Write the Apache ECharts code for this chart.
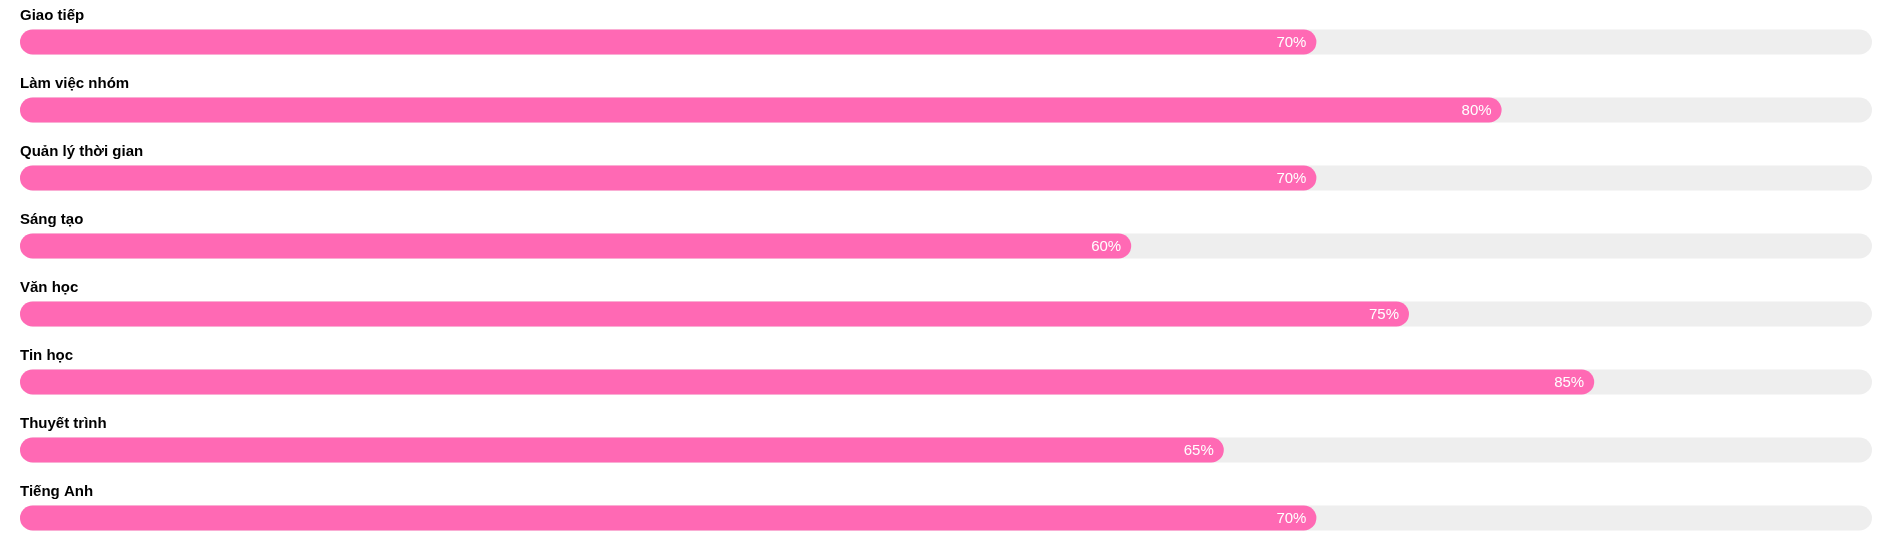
<!DOCTYPE html>
<html>
<head>
<meta charset="utf-8">
<script src="https://cdn.jsdelivr.net/npm/echarts@6/dist/echarts.min.js"></script>
<style>
    html, body { margin: 0; padding: 0; background: #fff; }
    #chart { width: 1893px; height: 552px; }
</style>
</head>
<body>
<div id="chart"></div>
<script>
// kỹ năng và mức độ (%)
const skills = [
    "Giao tiếp",
    "Làm việc nhóm",
    "Quản lý thời gian",
    "Sáng tạo",
    "Văn học",
    "Tin học",
    "Thuyết trình",
    "Tiếng Anh"
];
const levels = [70, 80, 70, 60, 75, 85, 65, 70];

const chart = echarts.init(document.getElementById("chart"));

const option = {
    animation: false,
    textStyle: { fontFamily: "Liberation Sans, Arial, sans-serif" },
    grid: { left: 20, right: 21, top: 8, bottom: 0 },
    xAxis: {
        type: "value",
        min: 0,
        max: 100,
        show: false
    },
    yAxis: {
        type: "category",
        data: skills,
        inverse: true,
        axisLine: { show: false },
        axisTick: { show: false },
        splitLine: { show: false },
        axisLabel: {
            inside: true,
            align: "left",
            verticalAlign: "bottom",
            margin: 0,
            padding: [0, 0, 19, 0],
            color: "#000",
            fontWeight: "bold",
            fontSize: 15
        },
        z: 10
    },
    series: [
        {
            type: "bar",
            data: levels,
            barWidth: 25,
            showBackground: true,
            backgroundStyle: {
                color: "#eeeeee",
                borderRadius: 12.5
            },
            itemStyle: {
                color: "#ff69b4",
                borderRadius: 12.5
            },
            label: {
                show: true,
                position: "insideRight",
                distance: 10,
                offset: [0, 1],
                formatter: "{c}%",
                color: "#fff",
                fontSize: 15
            }
        }
    ]
};

chart.setOption(option);
</script>
</body>
</html>
